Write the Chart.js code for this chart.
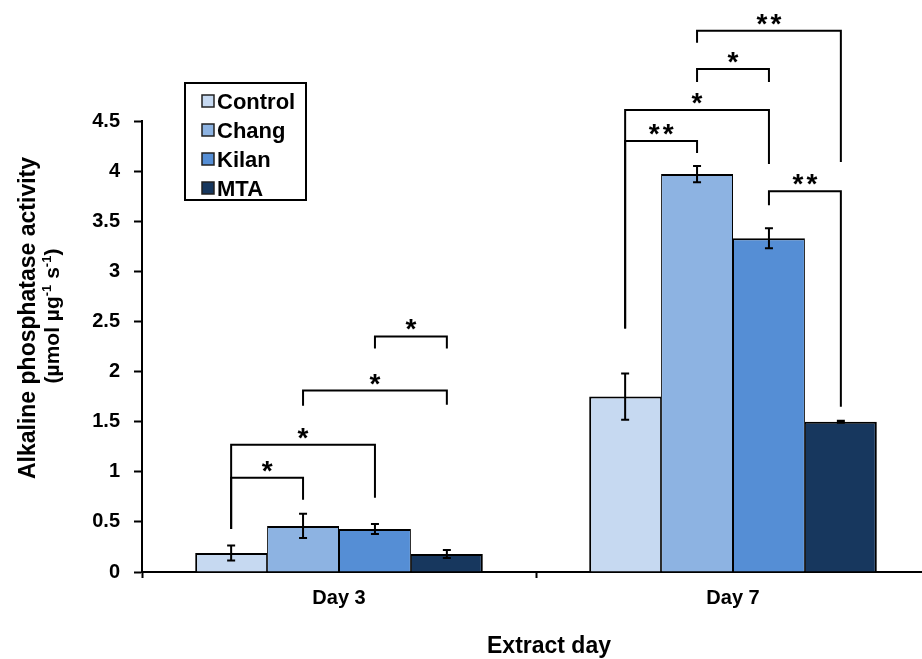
<!DOCTYPE html>
<html>
<head>
<meta charset="utf-8">
<title>Alkaline phosphatase activity</title>
<script src="https://cdn.jsdelivr.net/npm/chart.js@4.4.0/dist/chart.umd.min.js"></script>
<style>
  html, body { margin: 0; padding: 0; background: #fff; overflow: hidden; width: 922px; height: 659px; }
  canvas { display: block; }
</style>
</head>
<body>
<canvas id="alp" width="940" height="659"></canvas>
<script>
// ---- data ----
const categories = ['Day 3', 'Day 7'];
const seriesNames = ['Control', 'Chang', 'Kilan', 'MTA'];

const controlValues = [0.19, 1.75];
const changValues   = [0.46, 3.97];
const kilanValues   = [0.43, 3.33];
const mtaValues     = [0.18, 1.50];

const controlErrors = [0.075, 0.23];
const changErrors   = [0.12, 0.08];
const kilanErrors   = [0.05, 0.10];
const mtaErrors     = [0.04, 0.01];

const yTickValues = [0, 0.5, 1, 1.5, 2, 2.5, 3, 3.5, 4, 4.5];
const yTickLabels = ['0', '0.5', '1', '1.5', '2', '2.5', '3', '3.5', '4', '4.5'];

// significance comparisons: day index, the two series compared (by index),
// bracket height and where each leg ends, in activity units
const brackets = [
  { day: 0, a: 0, b: 1, level: 0.94, aEnd: 0.43, bEnd: 0.72, mark: '*' },
  { day: 0, a: 0, b: 2, level: 1.27, aEnd: 0.43, bEnd: 0.74, mark: '*' },
  { day: 0, a: 1, b: 3, level: 1.81, aEnd: 1.66, bEnd: 1.67, mark: '*' },
  { day: 0, a: 2, b: 3, level: 2.35, aEnd: 2.23, bEnd: 2.23, mark: '*' },
  { day: 1, a: 0, b: 1, level: 4.30, aEnd: 2.43, bEnd: 4.18, mark: '**' },
  { day: 1, a: 0, b: 2, level: 4.61, aEnd: 2.43, bEnd: 4.07, mark: '*' },
  { day: 1, a: 1, b: 2, level: 5.02, aEnd: 4.89, bEnd: 4.89, mark: '*' },
  { day: 1, a: 1, b: 3, level: 5.40, aEnd: 5.28, bEnd: 4.09, mark: '**' },
  { day: 1, a: 2, b: 3, level: 3.80, aEnd: 3.66, bEnd: 1.65, mark: '**' }
];

// ---- styling ----
const FONT = '"Liberation Sans", Arial, Helvetica, sans-serif';
const seriesColors = ['#c6d9f1', '#8db3e2', '#558ed5', '#17375e'];

function boldFont(size) { return 'bold ' + size + 'px ' + FONT; }

// error bars drawn on top of each bar
const errorBarPlugin = {
  id: 'errorBars',
  afterDatasetsDraw(chart) {
    const ctx = chart.ctx;
    const y = chart.scales.y;
    ctx.save();
    ctx.strokeStyle = '#000';
    ctx.lineWidth = 2;
    chart.data.datasets.forEach((ds, i) => {
      chart.getDatasetMeta(i).data.forEach((bar, j) => {
        const v = ds.data[j], e = ds.errors[j];
        const top = y.getPixelForValue(v + e);
        const bot = y.getPixelForValue(v - e);
        const x = bar.x;
        ctx.beginPath();
        ctx.moveTo(x, top); ctx.lineTo(x, bot);
        ctx.moveTo(x - 4, top); ctx.lineTo(x + 4, top);
        ctx.moveTo(x - 4, bot); ctx.lineTo(x + 4, bot);
        ctx.stroke();
      });
    });
    ctx.restore();
  }
};

// significance brackets with asterisks
const bracketPlugin = {
  id: 'sigBrackets',
  afterDraw(chart) {
    const ctx = chart.ctx;
    const y = chart.scales.y;
    ctx.save();
    ctx.strokeStyle = '#000';
    ctx.fillStyle = '#000';
    ctx.lineWidth = 2;
    ctx.lineCap = 'butt';
    ctx.font = boldFont(28);
    ctx.textAlign = 'center';
    ctx.textBaseline = 'alphabetic';
    brackets.forEach(b => {
      const xa = chart.getDatasetMeta(b.a).data[b.day].x;
      const xb = chart.getDatasetMeta(b.b).data[b.day].x;
      const yl = y.getPixelForValue(b.level);
      ctx.beginPath();
      ctx.moveTo(xa, y.getPixelForValue(b.aEnd));
      ctx.lineTo(xa, yl);
      ctx.lineTo(xb, yl);
      ctx.lineTo(xb, y.getPixelForValue(b.bEnd));
      ctx.stroke();
      // asterisks, spaced evenly around the bracket centre
      const n = b.mark.length, gap = 14;
      const cx = (xa + xb) / 2;
      for (let k = 0; k < n; k++) {
        ctx.fillText('*', cx + (k - (n - 1) / 2) * gap, yl + 2);
      }
    });
    ctx.restore();
  }
};

// boxed legend in the upper left of the plot
const boxLegendPlugin = {
  id: 'boxLegend',
  afterDraw(chart) {
    const ctx = chart.ctx;
    ctx.save();
    ctx.strokeStyle = '#000';
    ctx.lineWidth = 2;
    ctx.strokeRect(185, 83, 121, 117);
    ctx.font = boldFont(22);
    ctx.textAlign = 'left';
    ctx.textBaseline = 'alphabetic';
    chart.data.datasets.forEach((ds, i) => {
      const cy = 101 + i * 29;
      ctx.fillStyle = ds.backgroundColor;
      ctx.fillRect(202, cy - 6, 12, 12);
      ctx.lineWidth = 1.5;
      ctx.strokeStyle = '#222';
      ctx.strokeRect(202, cy - 6, 12, 12);
      ctx.fillStyle = '#000';
      ctx.fillText(ds.label, 217, cy + 8);
    });
    ctx.restore();
  }
};

// axis titles (the y title carries superscript units)
const axisTitlePlugin = {
  id: 'axisTitles',
  afterDraw(chart) {
    const ctx = chart.ctx;
    ctx.save();
    ctx.fillStyle = '#000';
    ctx.textBaseline = 'alphabetic';

    // x title
    ctx.font = boldFont(23);
    ctx.textAlign = 'center';
    ctx.fillText('Extract day', 549, 653);

    // y title line 1
    ctx.save();
    ctx.translate(35, 318);
    ctx.rotate(-Math.PI / 2);
    ctx.textAlign = 'center';
    ctx.font = boldFont(23);
    ctx.fillText('Alkaline phosphatase activity', 0, 0);
    ctx.restore();

    // y title line 2 with superscripts
    const parts = [
      { t: '(µmol µg', sup: false },
      { t: '-1', sup: true },
      { t: ' s', sup: false },
      { t: '-1', sup: true },
      { t: ')', sup: false }
    ];
    const mainFont = boldFont(21), supFont = boldFont(13);
    let total = 0;
    parts.forEach(p => { ctx.font = p.sup ? supFont : mainFont; p.w = ctx.measureText(p.t).width; total += p.w; });
    ctx.save();
    ctx.translate(59, 316);
    ctx.rotate(-Math.PI / 2);
    ctx.textAlign = 'left';
    let x = -total / 2;
    parts.forEach(p => {
      ctx.font = p.sup ? supFont : mainFont;
      ctx.fillText(p.t, x, p.sup ? -8 : 0);
      x += p.w;
    });
    ctx.restore();

    ctx.restore();
  }
};

const valueSets = [controlValues, changValues, kilanValues, mtaValues];
const errorSets = [controlErrors, changErrors, kilanErrors, mtaErrors];
const edgeWidths = [
  { top: 2, left: 2, right: 1, bottom: 0 },
  { top: 2, left: 1, right: 1, bottom: 0 },
  { top: 2, left: 1, right: 1, bottom: 0 },
  { top: 2, left: 1, right: 2, bottom: 0 }
];

new Chart(document.getElementById('alp'), {
  type: 'bar',
  data: {
    labels: categories,
    datasets: seriesNames.map((name, i) => ({
      label: name,
      data: valueSets[i],
      errors: errorSets[i],
      backgroundColor: seriesColors[i],
      borderColor: '#000',
      borderWidth: edgeWidths[i],
      borderSkipped: false,
      categoryPercentage: 0.73,
      barPercentage: 1.0
    }))
  },
  options: {
    responsive: false,
    animation: false,
    devicePixelRatio: 1,
    layout: { padding: { top: 121, left: 0, right: 10, bottom: 0 } },
    plugins: {
      legend: { display: false },
      tooltip: { enabled: false },
      title: { display: false }
    },
    scales: {
      x: {
        grid: { display: true, drawOnChartArea: false, drawTicks: true, tickLength: 6, tickWidth: 2, tickColor: '#000', offset: true },
        border: { display: true, color: '#000', width: 2 },
        ticks: { color: '#000', font: { family: FONT, size: 20, weight: 'bold' }, padding: 8 },
        afterFit(scale) { scale.height = 87; }
      },
      y: {
        min: 0,
        max: 4.5,
        afterBuildTicks(scale) { scale.ticks = yTickValues.map(v => ({ value: v })); },
        grid: { display: true, drawOnChartArea: false, drawTicks: true, tickLength: 8, tickWidth: 2, tickColor: '#000' },
        border: { display: true, color: '#000', width: 2 },
        ticks: {
          color: '#000',
          font: { family: FONT, size: 20, weight: 'bold' },
          padding: 14,
          callback: (v, i) => yTickLabels[i]
        },
        afterFit(scale) { scale.width = 142; }
      }
    }
  },
  plugins: [errorBarPlugin, bracketPlugin, boxLegendPlugin, axisTitlePlugin]
});
</script>
</body>
</html>
